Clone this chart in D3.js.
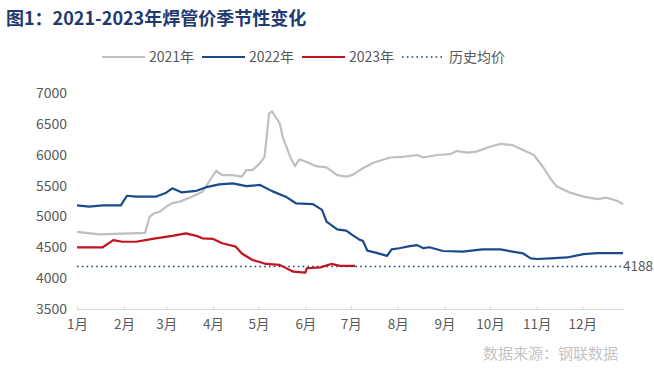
<!DOCTYPE html>
<html><head><meta charset="utf-8">
<script src="https://cdn.jsdelivr.net/npm/d3@7"></script>
<style>body{margin:0;background:#fff}svg{display:block}</style>
</head><body>
<svg id="c" width="654" height="376"></svg>
<script>
const title = "图1：2021-2023年焊管价季节性变化";
const source = "数据来源：钢联数据";
const monthLabels = ["1月","2月","3月","4月","5月","6月","7月","8月","9月","10月","11月","12月"];
const yTicks = [3500,4000,4500,5000,5500,6000,6500,7000];
const avgValue = 4188;

const dates2021 = ["01-01","01-16","02-15","02-18","02-21","02-25","03-01","03-05","03-10","03-18","03-25","03-30","04-03","04-07","04-14","04-20","04-23","04-27","05-02","05-05","05-08","05-10","05-15","05-17","05-22","05-25","05-28","06-03","06-08","06-15","06-22","06-28","07-02","07-07","07-09","07-16","07-27","08-04","08-14","08-18","08-27","09-05","09-09","09-16","09-22","10-01","10-08","10-16","10-23","10-30","11-05","11-10","11-14","11-23","12-02","12-11","12-17","12-24","12-28"];
const values2021 = [4750,4710,4735,4995,5050,5080,5160,5215,5240,5320,5400,5590,5740,5670,5670,5645,5750,5750,5865,5965,6670,6700,6510,6290,5965,5815,5925,5870,5815,5795,5670,5645,5670,5750,5780,5870,5955,5965,5995,5955,5995,6010,6060,6035,6050,6130,6175,6155,6075,5995,5805,5615,5490,5385,5320,5280,5305,5255,5200];

const dates2022 = ["01-01","01-09","01-18","01-30","02-03","02-09","02-22","03-01","03-05","03-11","03-21","03-27","04-05","04-14","04-23","05-02","05-10","05-19","05-26","06-06","06-12","06-15","06-22","06-28","07-02","07-07","07-09","07-12","07-18","07-25","07-28","08-02","08-09","08-14","08-18","08-22","08-31","09-13","09-26","10-08","10-23","10-28","11-01","11-10","11-21","12-02","12-11","12-28"];
const values2022 = [5180,5160,5180,5180,5335,5320,5320,5385,5455,5390,5415,5470,5520,5535,5490,5510,5410,5320,5210,5200,5105,4915,4790,4770,4700,4620,4605,4445,4410,4360,4465,4485,4520,4535,4485,4500,4440,4430,4465,4465,4400,4320,4310,4320,4335,4390,4405,4405];

const dates2023 = ["01-01","01-18","01-25","01-31","02-09","02-22","03-05","03-14","03-21","03-25","04-01","04-07","04-16","04-20","04-27","05-06","05-15","05-24","06-01","06-02","06-11","06-18","06-24","07-04"];
const values2023 = [4500,4500,4615,4590,4590,4645,4685,4725,4685,4645,4635,4565,4510,4400,4295,4230,4215,4105,4090,4160,4175,4230,4200,4200];

const seriesNames = ["2021年","2022年","2023年"];
const seriesColors = ["#bfbfbf","#1b4a8c","#c0141f"];
const avgName = "历史均价";

const parse = d3.timeParse("%Y-%m-%d");
const toDate = s => parse("2021-" + s);
const series = [
  {name: seriesNames[0], color: seriesColors[0], data: dates2021.map((d,i)=>({d:toDate(d), v:values2021[i]}))},
  {name: seriesNames[1], color: seriesColors[1], data: dates2022.map((d,i)=>({d:toDate(d), v:values2022[i]}))},
  {name: seriesNames[2], color: seriesColors[2], data: dates2023.map((d,i)=>({d:toDate(d), v:values2023[i]}))}
];

const svg = d3.select("#c");
const font = "'Noto Sans CJK SC', 'Noto Sans', sans-serif";
const L = 77, R = 623, T = 93, B = 309;
const x = d3.scaleTime().domain([toDate("01-01"), toDate("12-28")]).range([L, R]);
const y = d3.scaleLinear().domain([3500, 7000]).range([B, T]);

// title
svg.append("text").attr("x", 6).attr("y", 25).text(title)
  .attr("font-family", font).attr("font-weight", "bold").attr("font-size", 18).attr("fill", "#1f3a70");

// y axis labels
const yAxis = d3.axisLeft(y).tickValues(yTicks).tickSize(0).tickPadding(10).tickFormat(d3.format("d"));
const gy = svg.append("g").attr("transform", `translate(${L},0)`).call(yAxis);
gy.select(".domain").remove();
gy.selectAll("text").attr("font-family", font).attr("font-size", 14).attr("fill", "#595959");

// x axis
const months = d3.timeMonths(toDate("01-01"), toDate("12-28"));
const xAxis = d3.axisBottom(x).tickValues(months).tickSize(4).tickSizeOuter(0)
  .tickFormat((d,i)=>monthLabels[i]).tickPadding(6);
const gx = svg.append("g").attr("transform", `translate(0,${B})`).call(xAxis);
gx.select(".domain").attr("stroke", "#d9d9d9");
gx.selectAll(".tick line").attr("stroke", "#d9d9d9").attr("y1", -3).attr("y2", 1);
gx.selectAll("text").attr("font-family", font).attr("font-size", 13.5).attr("fill", "#595959");

// average line
svg.append("line").attr("x1", L).attr("x2", R).attr("y1", y(avgValue)).attr("y2", y(avgValue))
  .attr("stroke", "#1f3d7a").attr("stroke-width", 1.6).attr("stroke-dasharray", "1.6,3.2");
svg.append("text").attr("x", R).attr("y", y(avgValue)).attr("dy", "0.35em")
  .text(avgValue).attr("font-family", font).attr("font-size", 13.5).attr("fill", "#595959");

// lines
const line = d3.line().x(d=>x(d.d)).y(d=>y(d.v)).curve(d3.curveLinear);
series.forEach(s => {
  svg.append("path").datum(s.data).attr("d", line).attr("fill", "none")
    .attr("stroke", s.color).attr("stroke-width", 2.2).attr("stroke-linejoin", "round");
});

// legend
const legendItems = [
  {name: seriesNames[0], color: seriesColors[0], dash: null},
  {name: seriesNames[1], color: seriesColors[1], dash: null},
  {name: seriesNames[2], color: seriesColors[2], dash: null},
  {name: avgName, color: "#1f3d7a", dash: "1.6,3.2"}
];
const lx0 = 102, lstep = 100, ly = 57;
legendItems.forEach((it, i) => {
  const gx0 = lx0 + i * lstep;
  svg.append("line").attr("x1", gx0).attr("x2", gx0 + 43).attr("y1", ly).attr("y2", ly)
    .attr("stroke", it.color).attr("stroke-width", it.dash ? 1.6 : 2.2)
    .attr("stroke-dasharray", it.dash);
  svg.append("text").attr("x", gx0 + 47).attr("y", ly).attr("dy", "0.35em").text(it.name)
    .attr("font-family", font).attr("font-size", 14).attr("fill", "#595959");
});

// source
svg.append("text").attr("x", 618).attr("y", 359).attr("text-anchor", "end").text(source)
  .attr("font-family", font).attr("font-size", 15).attr("fill", "#c4c4c4");
</script>
</body></html>
